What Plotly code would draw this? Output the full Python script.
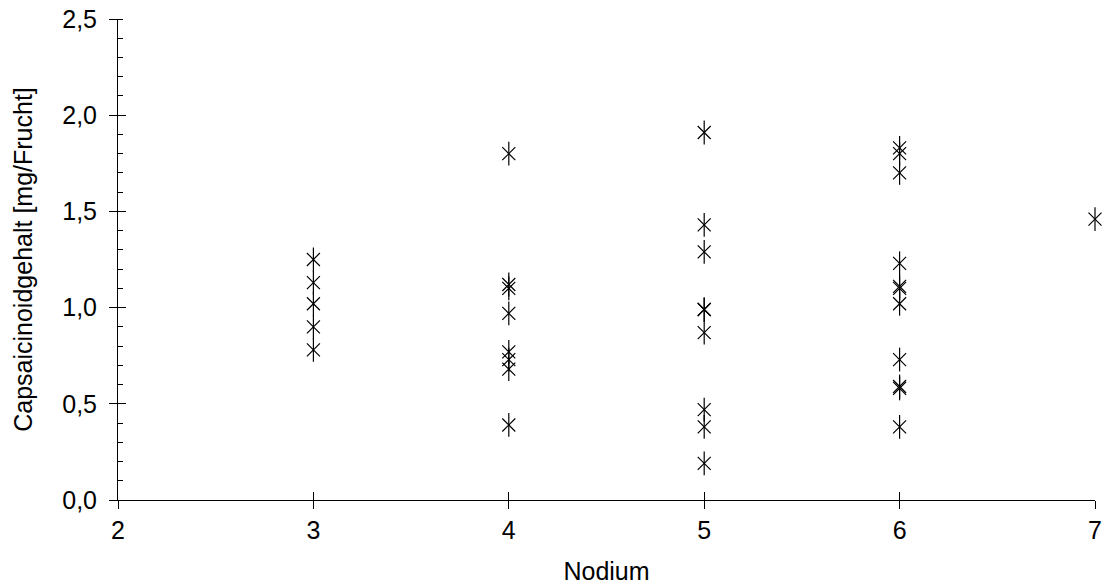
import plotly.graph_objects as go

# Data
nodium = [3, 3, 3, 3, 3,
          4, 4, 4, 4, 4, 4, 4, 4,
          5, 5, 5, 5, 5, 5, 5, 5, 5,
          6, 6, 6, 6, 6, 6, 6, 6, 6, 6, 6,
          7]
capsaicinoid = [1.25, 1.13, 1.02, 0.90, 0.78,
                1.80, 1.12, 1.10, 0.97, 0.77, 0.73, 0.68, 0.39,
                1.91, 1.43, 1.29, 0.99, 0.99, 0.87, 0.47, 0.38, 0.19,
                1.83, 1.80, 1.70, 1.23, 1.11, 1.10, 1.02, 0.73, 0.59, 0.58, 0.38,
                1.46]

x_ticks = [2, 3, 4, 5, 6, 7]
y_ticks = [0.0, 0.5, 1.0, 1.5, 2.0, 2.5]

FONT = "Liberation Sans, Arial, sans-serif"
FS = 25

fig = go.Figure()
# asterisk-like marker: diagonal cross + vertical bar
fig.add_trace(go.Scatter(x=nodium, y=capsaicinoid, mode="markers",
                         marker=dict(symbol="x-thin-open", size=13, color="black",
                                     line=dict(color="black", width=1.2)),
                         cliponaxis=False, showlegend=False, hoverinfo="x+y"))
fig.add_trace(go.Scatter(x=nodium, y=capsaicinoid, mode="markers",
                         marker=dict(symbol="line-ns-open", size=17, color="black",
                                     line=dict(color="black", width=1.2)),
                         cliponaxis=False, showlegend=False, hoverinfo="skip"))

axis_common = dict(showgrid=False, zeroline=False, showline=True,
                   linecolor="black", linewidth=1, tickcolor="black",
                   tickwidth=1, tickfont=dict(family=FONT, size=FS, color="black"))

fig.update_layout(
    width=1104, height=585,
    margin=dict(l=118, r=9, t=19, b=85, autoexpand=False),
    paper_bgcolor="white", plot_bgcolor="white",
    separators=",.",
    xaxis=dict(range=[2, 7], tickvals=x_ticks, ticks="outside", ticklen=8,
               title=dict(text="Nodium", font=dict(family=FONT, size=FS, color="black"),
                          standoff=30),
               ticklabelstandoff=0, automargin=True,
               **axis_common),
    yaxis=dict(range=[0, 2.5], tickvals=y_ticks, tickformat=".1f",
               ticks="outside", ticklen=8,
               minor=dict(dtick=0.1, ticks="inside", ticklen=5, tickcolor="black"),
               title=dict(text="Capsaicinoidgehalt [mg/Frucht]",
                          font=dict(family=FONT, size=FS, color="black"),
                          standoff=22),
               ticklabelstandoff=7, automargin=True,
               **axis_common),
    # overlay axes to make major ticks cross the axis lines
    xaxis2=dict(range=[2, 7], tickvals=x_ticks, ticks="inside", ticklen=8,
                showticklabels=False, overlaying="x", anchor="y",
                side="bottom", showgrid=False, zeroline=False, showline=False,
                tickcolor="black", tickwidth=1),
    yaxis2=dict(range=[0, 2.5], tickvals=y_ticks, ticks="inside", ticklen=8,
                showticklabels=False, overlaying="y", anchor="x",
                side="left", showgrid=False, zeroline=False, showline=False,
                tickcolor="black", tickwidth=1),
)
# invisible trace to activate the overlay axes
fig.add_trace(go.Scatter(x=[nodium[0]], y=[capsaicinoid[0]], xaxis="x2", yaxis="y2",
                         mode="markers", marker=dict(opacity=0), showlegend=False,
                         hoverinfo="skip"))

fig.write_html("out.html",
               config={"displayModeBar": False},
               post_script="document.body.style.margin='0';"
                           "document.body.style.overflow='hidden';")
